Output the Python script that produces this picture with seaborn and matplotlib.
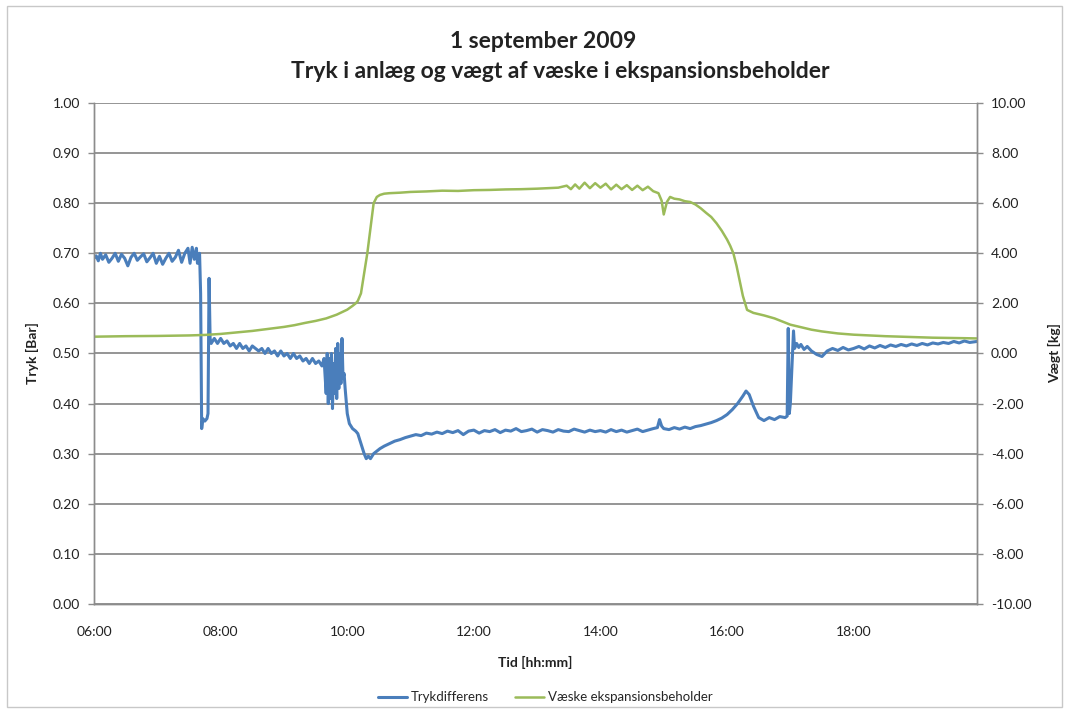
import pandas as pd
import matplotlib.pyplot as plt
import matplotlib.dates as mdates
import seaborn as sns
from matplotlib.patches import Rectangle

# Trykdifferens [bar]
tryk_tid = ['06:00', '06:02', '06:04', '06:06', '06:08', '06:11', '06:14', '06:17', '06:20', '06:23',
            '06:26', '06:29', '06:32', '06:35', '06:38', '06:41', '06:44', '06:47', '06:50', '06:53',
            '06:56', '06:59', '07:02', '07:05', '07:08', '07:11', '07:14', '07:17', '07:20', '07:23',
            '07:26', '07:29', '07:31', '07:33', '07:35', '07:37', '07:38', '07:40', '07:41', '07:42',
            '07:43', '07:45', '07:47', '07:48', '07:49', '07:50', '07:51', '07:54', '07:57', '08:00',
            '08:03', '08:06', '08:09', '08:12', '08:15', '08:18', '08:21', '08:24', '08:27', '08:30',
            '08:33', '08:36', '08:39', '08:42', '08:45', '08:48', '08:51', '08:54', '08:57', '09:00',
            '09:03', '09:06', '09:09', '09:12', '09:15', '09:18', '09:21', '09:24', '09:27', '09:30',
            '09:33', '09:36', '09:38', '09:40', '09:41', '09:42', '09:43', '09:44', '09:45', '09:46',
            '09:47', '09:48', '09:49', '09:50', '09:51', '09:52', '09:53', '09:54', '09:55', '09:56',
            '09:57', '09:58', '10:00', '10:02', '10:05', '10:08', '10:10', '10:13', '10:16', '10:18',
            '10:20', '10:22', '10:25', '10:28', '10:31', '10:35', '10:40', '10:45', '10:50', '10:55',
            '11:00', '11:05', '11:10', '11:15', '11:20', '11:25', '11:30', '11:35', '11:40', '11:45',
            '11:50', '11:55', '12:00', '12:05', '12:10', '12:15', '12:20', '12:25', '12:30', '12:35',
            '12:40', '12:45', '12:50', '12:55', '13:00', '13:05', '13:10', '13:15', '13:20', '13:25',
            '13:30', '13:35', '13:40', '13:45', '13:50', '13:55', '14:00', '14:05', '14:10', '14:15',
            '14:20', '14:25', '14:30', '14:35', '14:40', '14:45', '14:50', '14:54', '14:56', '14:58',
            '15:00', '15:05', '15:10', '15:15', '15:20', '15:25', '15:30', '15:35', '15:40', '15:45',
            '15:50', '15:55', '16:00', '16:05', '16:10', '16:15', '16:18', '16:21', '16:25', '16:30',
            '16:35', '16:40', '16:45', '16:50', '16:55', '16:57', '16:58', '16:59', '17:00', '17:01',
            '17:02', '17:03', '17:04', '17:06', '17:08', '17:10', '17:13', '17:16', '17:20', '17:25',
            '17:30', '17:35', '17:40', '17:45', '17:50', '17:55', '18:00', '18:05', '18:10', '18:15',
            '18:20', '18:25', '18:30', '18:35', '18:40', '18:45', '18:50', '18:55', '19:00', '19:05',
            '19:10', '19:15', '19:20', '19:25', '19:30', '19:35', '19:40', '19:45', '19:50', '19:57']
tryk = [0.69, 0.695, 0.685, 0.70, 0.688, 0.697, 0.682, 0.69, 0.70, 0.684,
        0.698, 0.69, 0.675, 0.692, 0.70, 0.686, 0.693, 0.699, 0.683, 0.691,
        0.70, 0.68, 0.694, 0.678, 0.69, 0.70, 0.684, 0.692, 0.706, 0.682,
        0.70, 0.71, 0.68, 0.712, 0.688, 0.71, 0.68, 0.70, 0.62, 0.35,
        0.37, 0.365, 0.37, 0.38, 0.65, 0.53, 0.52, 0.53, 0.52, 0.53,
        0.52, 0.525, 0.515, 0.52, 0.51, 0.52, 0.51, 0.515, 0.505, 0.515,
        0.51, 0.505, 0.51, 0.50, 0.51, 0.50, 0.505, 0.495, 0.505, 0.495,
        0.50, 0.49, 0.50, 0.49, 0.495, 0.485, 0.49, 0.48, 0.49, 0.48,
        0.485, 0.475, 0.49, 0.42, 0.50, 0.40, 0.49, 0.41, 0.50, 0.39,
        0.48, 0.42, 0.51, 0.41, 0.52, 0.43, 0.50, 0.44, 0.53, 0.45,
        0.46, 0.43, 0.38, 0.36, 0.35, 0.345, 0.34, 0.32, 0.30, 0.29,
        0.295, 0.29, 0.30, 0.305, 0.31, 0.315, 0.32, 0.325, 0.328, 0.332,
        0.335, 0.338, 0.336, 0.341, 0.339, 0.343, 0.340, 0.345, 0.342, 0.346,
        0.338, 0.345, 0.347, 0.341, 0.346, 0.344, 0.348, 0.342, 0.347, 0.345,
        0.350, 0.344, 0.346, 0.349, 0.343, 0.348, 0.346, 0.343, 0.348, 0.345,
        0.344, 0.349, 0.346, 0.343, 0.347, 0.344, 0.346, 0.343, 0.348, 0.344,
        0.347, 0.343, 0.346, 0.349, 0.344, 0.347, 0.350, 0.352, 0.368, 0.355,
        0.350, 0.348, 0.352, 0.349, 0.353, 0.350, 0.354, 0.356, 0.359, 0.362,
        0.366, 0.371, 0.378, 0.388, 0.400, 0.415, 0.425, 0.418, 0.395, 0.372,
        0.366, 0.372, 0.368, 0.374, 0.372, 0.375, 0.55, 0.38, 0.40, 0.45,
        0.50, 0.545, 0.51, 0.52, 0.512, 0.518, 0.508, 0.514, 0.505, 0.498,
        0.494, 0.505, 0.510, 0.506, 0.512, 0.507, 0.510, 0.514, 0.509, 0.515,
        0.511, 0.516, 0.512, 0.517, 0.514, 0.518, 0.515, 0.519, 0.516, 0.520,
        0.517, 0.521, 0.519, 0.522, 0.520, 0.524, 0.521, 0.525, 0.522, 0.524]

# Vaegt af vaeske i ekspansionsbeholder [kg]
vaegt_tid = ['06:00', '06:30', '07:00', '07:30', '07:45', '08:00', '08:15', '08:30', '08:45', '09:00',
             '09:10', '09:20', '09:30', '09:40', '09:50', '09:55', '10:00', '10:05', '10:08', '10:10',
             '10:13', '10:16', '10:19', '10:22', '10:25', '10:28', '10:31', '10:35', '10:40', '10:50',
             '11:00', '11:15', '11:30', '11:45', '12:00', '12:15', '12:30', '12:45', '13:00', '13:10',
             '13:20', '13:28', '13:32', '13:36', '13:40', '13:45', '13:50', '13:55', '14:00', '14:05',
             '14:10', '14:15', '14:20', '14:25', '14:30', '14:35', '14:40', '14:45', '14:50', '14:55',
             '14:58', '15:00', '15:03', '15:06', '15:10', '15:15', '15:20', '15:25', '15:30', '15:35',
             '15:40', '15:45', '15:50', '15:55', '16:00', '16:03', '16:06', '16:09', '16:12', '16:15',
             '16:19', '16:25', '16:35', '16:45', '17:00', '17:10', '17:20', '17:30', '17:45', '18:00',
             '18:15', '18:30', '18:45', '19:00', '19:15', '19:30', '19:45', '19:57']
vaegt = [0.67, 0.69, 0.70, 0.72, 0.74, 0.78, 0.84, 0.90, 0.98, 1.06,
         1.13, 1.22, 1.30, 1.40, 1.55, 1.65, 1.75, 1.90, 2.00, 2.10,
         2.40, 3.20, 4.00, 5.00, 6.00, 6.25, 6.33, 6.38, 6.40, 6.42,
         6.45, 6.47, 6.50, 6.49, 6.52, 6.53, 6.55, 6.56, 6.58, 6.60,
         6.62, 6.70, 6.56, 6.75, 6.58, 6.82, 6.60, 6.80, 6.62, 6.78,
         6.55, 6.74, 6.56, 6.72, 6.53, 6.70, 6.52, 6.66, 6.48, 6.40,
         6.10, 5.55, 6.05, 6.25, 6.18, 6.15, 6.08, 6.05, 5.95, 5.80,
         5.62, 5.45, 5.20, 4.90, 4.55, 4.30, 4.00, 3.50, 2.90, 2.30,
         1.74, 1.62, 1.52, 1.40, 1.15, 1.05, 0.95, 0.88, 0.80, 0.75,
         0.72, 0.69, 0.67, 0.65, 0.63, 0.62, 0.61, 0.60]

x_ticks = ['06:00', '08:00', '10:00', '12:00', '14:00', '16:00', '18:00']

dag = '2009-09-01 '
df_tryk = pd.DataFrame({'Tid': pd.to_datetime([dag + t for t in tryk_tid]), 'Tryk': tryk})
df_vaegt = pd.DataFrame({'Tid': pd.to_datetime([dag + t for t in vaegt_tid]), 'Vaegt': vaegt})

sns.set_style("white")
plt.rcParams['font.family'] = ['Lato', 'DejaVu Sans']

blue = '#4a7ebb'
green = '#9bbb59'
grid_c = '#8c8c8c'
txt = '#222222'

fig = plt.figure(figsize=(10.69, 7.13), dpi=100)
ax = fig.add_axes([0.088, 0.153, 0.826, 0.7025])
ax2 = ax.twinx()

sns.lineplot(data=df_tryk, x='Tid', y='Tryk', ax=ax, color=blue, linewidth=2.2,
             label='Trykdifferens', legend=False)
sns.lineplot(data=df_vaegt, x='Tid', y='Vaegt', ax=ax2, color=green, linewidth=1.8,
             label='Væske ekspansionsbeholder', legend=False)

ax.set_ylim(0, 1)
ax.set_yticks([i / 10 for i in range(11)])
ax.set_yticklabels([f'{i / 10:.2f}' for i in range(11)])
ax2.set_ylim(-10, 10)
ax2.set_yticks(range(-10, 11, 2))
ax2.set_yticklabels([f'{v:.2f}' for v in range(-10, 11, 2)])

ax.set_xlim(pd.Timestamp(dag + '06:00'), pd.Timestamp(dag + '19:57'))
ax.set_xticks(pd.to_datetime([dag + t for t in x_ticks]))
ax.xaxis.set_major_formatter(mdates.DateFormatter('%H:%M'))

ax.yaxis.grid(True, color=grid_c, linewidth=1.3)
ax.set_axisbelow(True)
for a in (ax, ax2):
    a.spines['top'].set_visible(False)
    for s in ('left', 'right', 'bottom'):
        a.spines[s].set_color(grid_c)
        a.spines[s].set_linewidth(1.0)
    a.tick_params(axis='both', length=4, width=1, color=grid_c, labelsize=10,
                  labelcolor=txt, direction='out')
ax.tick_params(axis='x', pad=12)
ax.tick_params(axis='y', pad=6)
ax2.tick_params(axis='y', pad=6)

ax.set_xlabel('Tid [hh:mm]', fontsize=10, fontweight='bold', color=txt, labelpad=13)
ax.set_ylabel('Tryk [Bar]', fontsize=10, fontweight='bold', color=txt, labelpad=10)
ax2.set_ylabel('Vægt [kg]', fontsize=10, fontweight='bold', color=txt, labelpad=12,
               rotation=90)

fig.text(0.508, 0.942, '1 september 2009', ha='center', va='center',
         fontsize=16.5, fontweight='bold', color=txt)
fig.text(0.524, 0.900, 'Tryk i anlæg og vægt af væske i ekspansionsbeholder', ha='center',
         va='center', fontsize=16.5, fontweight='bold', color=txt)

h1, l1 = ax.get_legend_handles_labels()
h2, l2 = ax2.get_legend_handles_labels()
fig.legend(h1 + h2, l1 + l2, loc='center', bbox_to_anchor=(0.51, 0.022), ncol=2,
           frameon=False, fontsize=9.5, handlelength=2.2, columnspacing=2.0, handletextpad=0.3)

fig.patches.append(Rectangle((0.007, 0.008), 0.986, 0.984, transform=fig.transFigure,
                             fill=False, edgecolor='#c8c8c8', linewidth=1.0))

fig.savefig('out.png', dpi=100)
